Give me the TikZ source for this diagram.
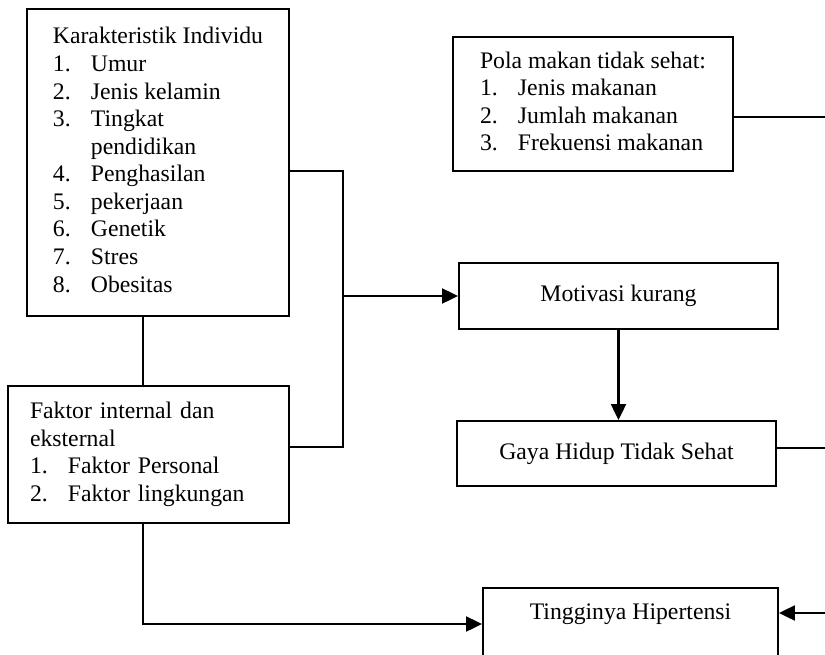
\documentclass[tikz,border=0pt]{standalone}
\usepackage{fontspec}
\setmainfont{Liberation Serif}
\usetikzlibrary{arrows.meta}
\begin{document}
\begin{tikzpicture}[font=\fontsize{13.5}{15.7}\selectfont,
  >={Triangle[length=0.32cm,width=0.3cm]},
  box/.style={draw, black, line width=1.1pt},
  line/.style={black, line width=1.3pt}]
\useasboundingbox (0,0) rectangle (16.5,-13.1);
\node[box, minimum width=5.24cm, minimum height=6.14cm] (kar) at (3.16,-3.25)
 {\begin{tabular}{@{}p{0.76cm}@{}l@{}}
  \multicolumn{2}{@{}c@{}}{Karakteristik Individu}\\
  1. & Umur\\ 2. & Jenis kelamin\\ 3. & Tingkat\\ & pendidikan\\
  4. & Penghasilan\\ 5. & pekerjaan\\ 6. & Genetik\\ 7. & Stres\\ 8. & Obesitas
 \end{tabular}};
\node[box, text width=4.74cm, inner xsep=0.44cm, align=left, minimum height=2.74cm] (fak) at (2.97,-9.09)
 {\begin{tabular}{@{}p{0.76cm}@{}l@{}}
  \multicolumn{2}{@{}l@{}}{Faktor internal dan}\\
  \multicolumn{2}{@{}l@{}}{eksternal}\\
  1. & Faktor Personal\\ 2. & Faktor lingkungan
 \end{tabular}};
\node[box, minimum width=5.6cm, minimum height=2.68cm] (pola) at (11.86,-2.08)
 {\begin{tabular}{@{}p{0.76cm}@{}l@{}}
  \multicolumn{2}{@{}c@{}}{Pola makan tidak sehat:}\\
  1. & Jenis makanan\\ 2. & Jumlah makanan\\ 3. & Frekuensi makanan
 \end{tabular}};
\node[box, minimum width=6.38cm, minimum height=1.32cm] (mot) at (12.37,-5.92) {Motivasi kurang};
\node[box, minimum width=6.38cm, minimum height=1.3cm] (gaya) at (12.33,-9.07) {Gaya Hidup Tidak Sehat};
\node[box, minimum width=5.9cm, inner ysep=0pt, text height=0.62cm, text depth=0.82cm] (ting) at (12.61,-12.48) {Tingginya Hipertensi};
\coordinate (join) at (6.86,-5.92);
\coordinate (rim) at (16.5,0);
% connectors
\draw[line] ([yshift=-0.17cm]kar.east) -| (join) |- ([yshift=0.15cm]fak.east);
\draw[line, ->] (join) -- (mot.west);
\draw[line] ([xshift=-0.11cm]fak.north) -- ([xshift=-0.11cm]fak.north |- kar.south);
\draw[line, ->] ([xshift=-0.11cm]fak.south) |- (ting.west);
\draw[line, ->] (mot.south) -- (mot.south |- gaya.north);
\draw[line] ([yshift=-0.26cm]pola.east) -- ([yshift=-0.26cm]pola.east -| rim);
\draw[line] ([yshift=0.11cm]gaya.east) -- ([yshift=0.11cm]gaya.east -| rim);
\draw[line, ->] ([yshift=0.22cm]ting.east -| rim) -- ([yshift=0.22cm]ting.east);
\end{tikzpicture}
\end{document}
